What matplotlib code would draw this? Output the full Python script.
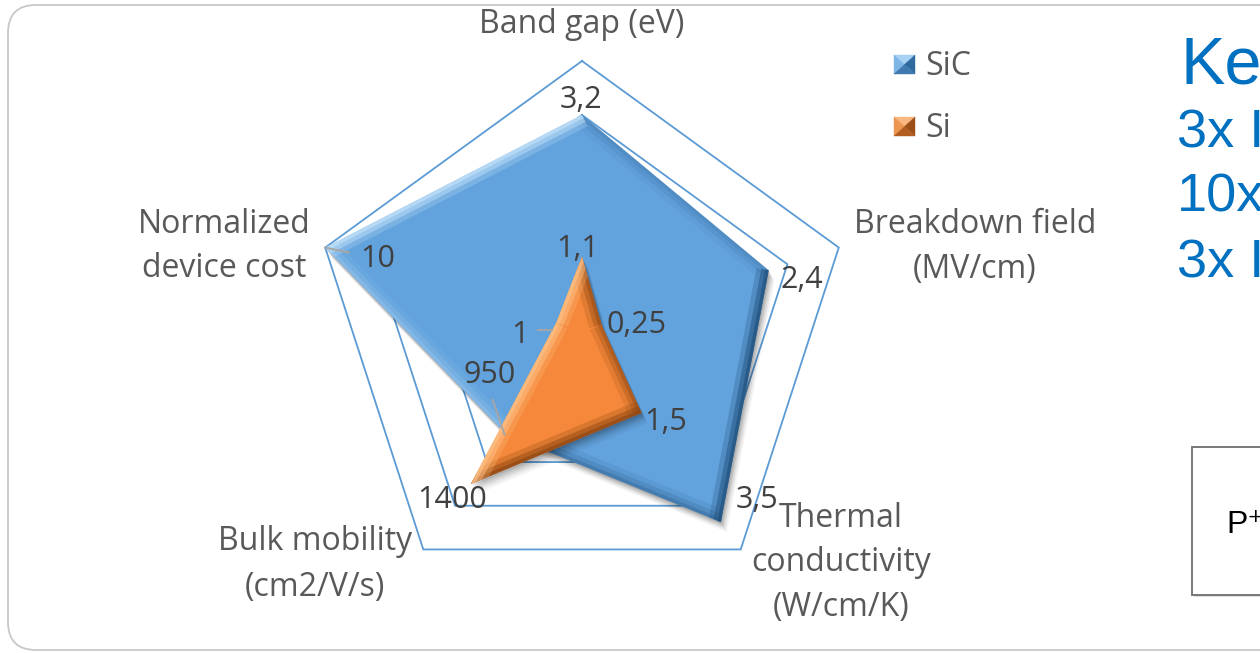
import numpy as np
import matplotlib
matplotlib.use("Agg")
import matplotlib.pyplot as plt
from matplotlib.patches import Polygon, FancyBboxPatch, Rectangle

# ---- data -------------------------------------------------------------
categories = [
    ["Band gap (eV)"],
    ["Breakdown field", "(MV/cm)"],
    ["Thermal", "conductivity", "(W/cm/K)"],
    ["Bulk mobility", "(cm2/V/s)"],
    ["Normalized", "device cost"],
]
axis_max = [4.0, 3.3, 4.0, 2000.0, 10.0]      # full-scale value of each spoke
sic_values = [3.2, 2.4, 3.5, 950, 10]
si_values = [1.1, 0.25, 1.5, 1400, 1]
series_names = ["SiC", "Si"]
grid_levels = [0.2, 0.4, 0.6, 0.8, 1.0]

side_title = "Ke"
side_lines = ["3x I", "10x", "3x I"]
box_text = "P\u207a"

# ---- canvas -----------------------------------------------------------
W, H = 1260, 653
CX, CY, R = 582, 331, 270          # radar centre and radius in pixels

plt.rcParams["font.family"] = ["Open Sans", "DejaVu Sans"]
fig = plt.figure(figsize=(W / 100, H / 100), dpi=100, facecolor="white")
ax = fig.add_axes([0, 0, 1, 1])
ax.set_xlim(-CX / R, (W - CX) / R)
ax.set_ylim(-(H - CY) / R, CY / R)
ax.axis("off")


def px(x, y):
    """pixel position (from top-left) -> data coordinates"""
    return (x - CX) / R, (CY - y) / R


def dpx(dx, dy):
    return dx / R, -dy / R


angles = np.deg2rad(90 - 72 * np.arange(len(categories)))


def to_xy(values):
    r = np.asarray(values, float) / np.asarray(axis_max)
    return r * np.cos(angles), r * np.sin(angles)


def fmt(v):
    return f"{v:g}".replace(".", ",")


# ---- outer frame ------------------------------------------------------
x0, y0 = px(8, 650)
x1, y1 = px(1320, 5)
ax.add_patch(FancyBboxPatch((x0, y0), x1 - x0, y1 - y0,
                            boxstyle=f"round,pad=0,rounding_size={28 / R}",
                            fc="none", ec="#C8C8C8", lw=1.3, zorder=0))

# ---- grid -------------------------------------------------------------
for lv in grid_levels:
    gx = np.append(lv * np.cos(angles), lv * np.cos(angles[0]))
    gy = np.append(lv * np.sin(angles), lv * np.sin(angles[0]))
    ax.plot(gx, gy, color="#5B9BD5", lw=1.3, zorder=1, solid_joinstyle="miter")

# ---- series with bevel look ------------------------------------------
light_dir = np.array([-0.8, 0.6])
light_dir /= np.linalg.norm(light_dir)


def draw_series(values, base, dark, light, z):
    xs, ys = to_xy(values)
    pts = np.column_stack([xs, ys])
    # soft drop shadow
    for off, a in [(2, 0.10), (4, 0.09), (6, 0.07), (8, 0.05), (10, 0.04)]:
        ax.add_patch(Polygon(pts + np.array(dpx(off * 0.6, off)), closed=True,
                             fc="black", ec="none", alpha=a, zorder=z))
    poly = Polygon(pts, closed=True, fc=base, ec="none", zorder=z + 0.1)
    ax.add_patch(poly)
    n = len(pts)
    area = 0.5 * np.sum(pts[:, 0] * np.roll(pts[:, 1], -1) - np.roll(pts[:, 0], -1) * pts[:, 1])
    for i in range(n):
        p0, p1 = pts[i], pts[(i + 1) % n]
        d = p1 - p0
        nrm = np.array([d[1], -d[0]]) / np.linalg.norm(d)
        if area < 0:
            nrm = -nrm
        s = float(np.dot(nrm, light_dir))
        col = light if s > 0 else dark
        a = min(abs(s) + 0.15, 1.0)
        for lw, aa in [(18, 0.25 * a), (11, 0.45 * a), (5, 0.6 * a)]:
            ln, = ax.plot([p0[0], p1[0]], [p0[1], p1[1]], color=col, lw=lw,
                          alpha=aa, solid_capstyle="butt", zorder=z + 0.2)
            ln.set_clip_path(poly)
    return pts


sic_pts = draw_series(sic_values, "#62A2DD", "#1F4E79", "#C6E4FB", 2)
si_pts = draw_series(si_values, "#F5883A", "#8A4512", "#FFC48A", 4)

# ---- data labels ------------------------------------------------------
label_color = "#404040"
# label offsets (centre x, baseline y) relative to each point, in pixels
sic_offsets = [(-1, -7), (33, 18), (36, -14), (-17, -52), (52, 19)]
si_offsets = [(-4, 0), (35, 8), (24, 17), (-19, 24), (-36, 20)]
sic_leaders = {3: ((-14, -35), (-2, 0)), 4: ((24, 5), (0, 0))}
si_leaders = {4: ((-18, 7), (-4, 7))}

for pts, vals, offs, leaders in [(sic_pts, sic_values, sic_offsets, sic_leaders),
                                 (si_pts, si_values, si_offsets, si_leaders)]:
    for i, (p, v, o) in enumerate(zip(pts, vals, offs)):
        ox, oy = dpx(*o)
        ax.text(p[0] + ox, p[1] + oy, fmt(v), ha="center", va="baseline",
                fontsize=22, color=label_color, zorder=10)
        if i in leaders:
            (sx, sy), (ex, ey) = leaders[i]
            a0, b0 = dpx(sx, sy)
            a1, b1 = dpx(ex, ey)
            ax.plot([p[0] + a0, p[0] + a1], [p[1] + b0, p[1] + b1],
                    color="#A6A6A6", lw=1.4, zorder=9)

# ---- category labels --------------------------------------------------
cat_pos = [(582, [33]), (975, [233, 278]), (841, [527, 571, 616]),
           (315, [550, 596]), (224, [233, 277])]
for lines, (cx, ys) in zip(categories, cat_pos):
    for line, yb in zip(lines, ys):
        ax.text(*px(cx, yb), line, ha="center", va="baseline",
                fontsize=23, color="#595959", zorder=10)

# ---- legend -----------------------------------------------------------
legend_cols = [("#62A2DD", "#A8D2F3", "#7DB5E6", "#2F6A9E", "#3E7AB0"),
               ("#F5883A", "#FAB77E", "#EE9550", "#9C4E17", "#B35E20")]
for name, cols, (top, base_y) in zip(series_names, legend_cols, [(55, 75), (117, 137)]):
    l, r_, t, b = 894, 915, top, top + 19
    TL, TR, BR, BL = px(l, t), px(r_, t), px(r_, b), px(l, b)
    C = px((l + r_) / 2, (t + b) / 2)
    for tri, c in zip([(TL, TR, C), (TL, BL, C), (TR, BR, C), (BL, BR, C)], cols[1:]):
        ax.add_patch(Polygon(tri, closed=True, fc=c, ec=c, lw=0.3, zorder=10))
    ax.text(*px(925, base_y), name, ha="left", va="baseline",
            fontsize=23, color="#595959", zorder=10)

# ---- side text --------------------------------------------------------
side_font = ["Liberation Sans", "DejaVu Sans"]
ax.text(*px(1180, 83), side_title, ha="left", va="baseline", fontsize=48,
        color="#0070C0", family=side_font, zorder=10)
for line, yb in zip(side_lines, [147, 212, 277]):
    ax.text(*px(1177, yb), line, ha="left", va="baseline", fontsize=39,
            color="#0070C0", family=side_font, zorder=10)

bx0, by0 = px(1192, 595)
bx1, by1 = px(1300, 447)
ax.add_patch(Rectangle((bx0 + 2 / R, by0 - 2 / R), bx1 - bx0, by1 - by0,
                       fc="#E0E0E0", ec="none", zorder=9))
ax.add_patch(Rectangle((bx0, by0), bx1 - bx0, by1 - by0,
                       fc="white", ec="#6E6E6E", lw=1.3, zorder=9.5))
ax.text(*px(1226, 533), box_text, ha="left", va="baseline", fontsize=23,
        color="black", family=side_font, zorder=10)

fig.savefig("out.png", dpi=100, facecolor="white")
